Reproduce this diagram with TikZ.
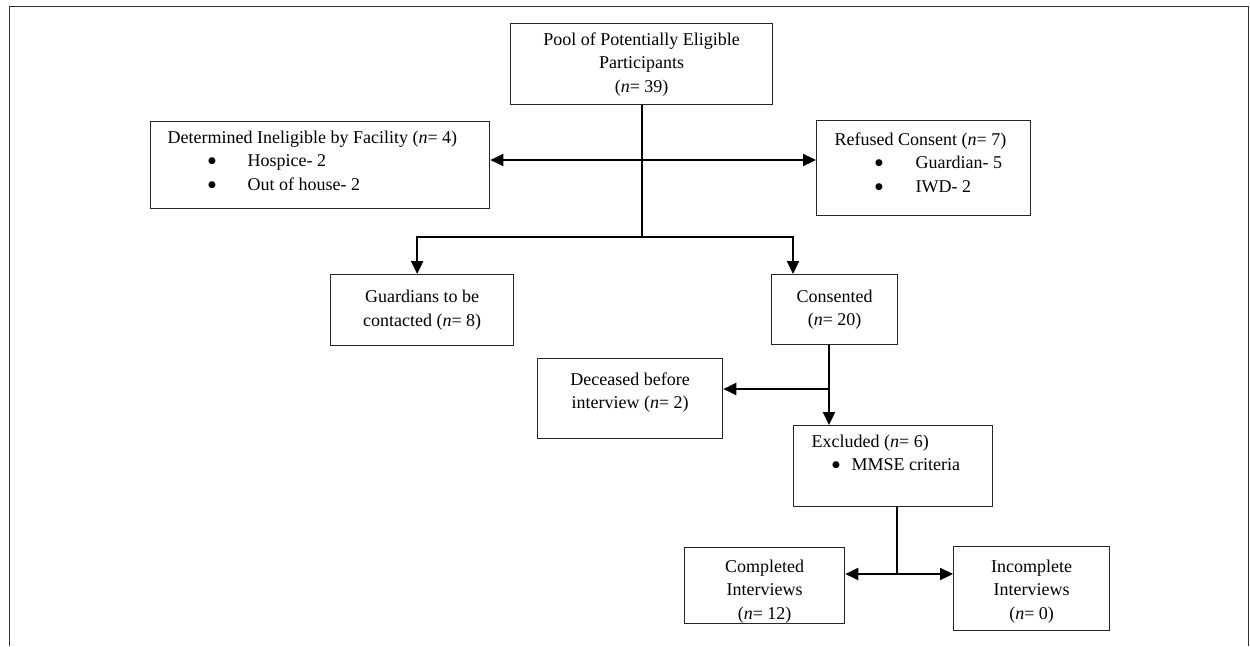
\documentclass[tikz,border=0pt]{standalone}
\usepackage{fontspec}
\setmainfont{Liberation Serif}
\newfontfamily\bulletfont{DejaVu Sans}
\usetikzlibrary{arrows.meta,calc}
\newcommand\dfont{\fontsize{18}{23.5}\selectfont}
% centred box text
\newcommand\cbox[3]{\parbox[c][#2pt][c]{#1pt}{\centering\dfont #3}}
% centred, top-aligned box text
\newcommand\ctbox[4]{\parbox[c][#2pt][t]{#1pt}{\centering\dfont\vspace*{#3pt}\strut #4}}
% left-aligned, top-aligned box text
\newcommand\ltbox[5]{\parbox[c][#2pt][t]{#1pt}{\raggedright\leftskip=#3pt\dfont\vspace*{#4pt}\strut #5}}
% bullet item
\newcommand\bigbullet{\raisebox{2.8pt}{\bulletfont\fontsize{9}{10}\selectfont ●}}
\newcommand\bitem[3]{\par\makebox[#2pt][l]{\hspace*{\dimexpr#1pt-2.6pt\relax}\bigbullet}#3}
\tikzset{
  box/.style={draw=black!85, line width=1.3pt, inner sep=0pt, anchor=north west},
  link/.style={draw=black, line width=2.2pt},
  arr/.style={link, -{Triangle[length=13pt,width=12pt]}},
  frame/.style={draw=black!80, line width=1.8pt}
}
\begin{document}
\begin{tikzpicture}[x=1pt,y=-1pt]
\useasboundingbox (0,0) rectangle (1250,646);
\draw[frame] (9.5,646) -- (9.5,6.5) -- (1248.5,6.5) -- (1248.5,646);

\node[box] (pool) at (510,23) {\cbox{262}{81}{Pool of Potentially Eligible\\Participants\\(\textit{n}= 39)}};
\node[box] (inel) at (150,121) {\ltbox{339}{87}{17}{5}{Determined Ineligible by Facility (\textit{n}= 4)
  \bitem{43}{80}{Hospice- 2}
  \bitem{43}{80}{Out of house- 2}}};
\node[box] (ref) at (816,120) {\ltbox{214}{95}{18}{8}{Refused Consent (\textit{n}= 7)
  \bitem{43}{81}{Guardian- 5}
  \bitem{43}{81}{IWD- 2}}};
\node[box] (guard) at (330,274) {\cbox{183}{71}{Guardians to be\\contacted (\textit{n}= 8)}};
\node[box] (cons) at (771,274) {\cbox{126}{70}{Consented\\(\textit{n}= 20)}};
\node[box] (dec) at (537,358) {\ctbox{185}{80}{10}{Deceased before\\interview (\textit{n}= 2)}};
\node[box] (excl) at (793,425) {\ltbox{199}{81}{18}{5}{Excluded (\textit{n}= 6)
  \bitem{23}{40}{MMSE criteria}}};
\node[box] (comp) at (684,547) {\ctbox{160}{76}{8}{Completed\\Interviews\\(\textit{n}= 12)}};
\node[box] (inc) at (953,546) {\ctbox{156}{84}{9}{Incomplete\\Interviews\\(\textit{n}= 0)}};

\coordinate (j2) at (642,160);
\coordinate (j1) at (642,237);
\coordinate (j3) at (829,389);
\coordinate (j4) at (897,574);

\draw[link] (pool.south -| j1) -- (j1);
\draw[arr] (j2) -- (j2 -| inel.east);
\draw[arr] (j2) -- (j2 -| ref.west);
\draw[arr] (j1) -| ([xshift=-5pt]guard.north);
\draw[arr] (j1) -| ([xshift=22pt]cons.north west);
\draw[link] (cons.south -| j3) -- (j3);
\draw[arr] (j3) -- (j3 -| dec.east);
\draw[arr] (j3) -- (j3 |- excl.north);
\draw[link] (excl.south -| j4) -- (j4);
\draw[arr] (j4) -- (j4 -| comp.east);
\draw[arr] (j4) -- (j4 -| inc.west);
\end{tikzpicture}
\end{document}
